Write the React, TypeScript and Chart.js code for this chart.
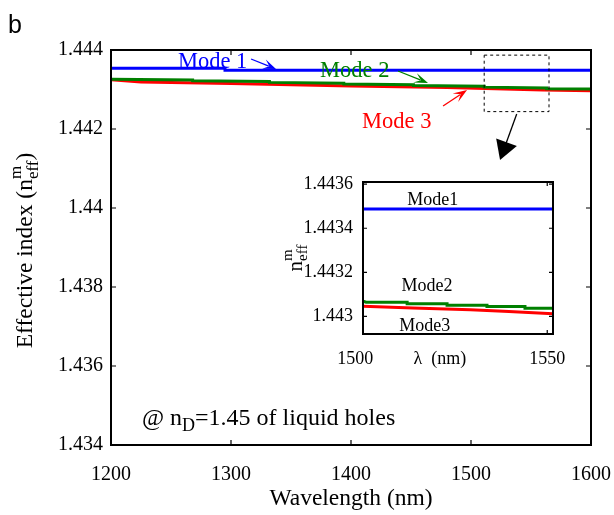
import React, { useEffect, useRef } from 'react';
import { Chart, registerables } from 'chart.js';

Chart.register(...registerables);

const SERIF = '"Liberation Serif", "Times New Roman", Times, serif';
const SANS = '"Liberation Sans", Arial, sans-serif';

// ---------- Main chart data ----------
const mode1Wavelength = [1200, 1295, 1295, 1600];
const mode1Index = [1.44354, 1.44354, 1.44349, 1.44349];

const mode2Wavelength = [1200, 1268, 1268, 1332, 1332, 1394, 1394, 1452, 1452, 1511, 1511, 1563, 1563, 1600];
const mode2Index = [1.44326, 1.44324, 1.44322, 1.4432, 1.44318, 1.44316, 1.44314, 1.44312, 1.4431, 1.44308, 1.44306, 1.44304, 1.44302, 1.44301];

const mode3Wavelength = [1200, 1225, 1300, 1400, 1480, 1520, 1560, 1600];
const mode3Index = [1.44325, 1.44319, 1.44315, 1.44309, 1.44305, 1.44302, 1.44299, 1.44297];

const mainXTicks = [1200, 1300, 1400, 1500, 1600];
const mainXLabels = ['1200', '1300', '1400', '1500', '1600'];
const mainYTicks = [1.434, 1.436, 1.438, 1.44, 1.442, 1.444];
const mainYLabels = ['1.434', '1.436', '1.438', '1.44', '1.442', '1.444'];

// ---------- Inset data ----------
const insetMode1Wavelength = [1502, 1551.5];
const insetMode1Index = [1.443487, 1.443487];

const insetMode2Wavelength = [1502, 1502.8, 1513.5, 1513.5, 1523.9, 1523.9, 1534.3, 1534.3, 1544.2, 1544.2, 1551.5];
const insetMode2Index = [1.443069, 1.443064, 1.443064, 1.443057, 1.443057, 1.443051, 1.443051, 1.443045, 1.443045, 1.443037, 1.443037];

const insetMode3Wavelength = [1502, 1515, 1530, 1540, 1551.5];
const insetMode3Index = [1.443046, 1.443038, 1.44303, 1.443022, 1.443012];

const insetXTicks = [1500, 1550];
const insetXLabels = ['1500', '1550'];
const insetYTicks = [1.443, 1.4432, 1.4434, 1.4436];
const insetYLabels = ['1.443', '1.4432', '1.4434', '1.4436'];

// ---------- Annotation anchors (data coordinates) ----------
const ANN = {
  mode1Text: [1255.8, 1.443696],
  mode1Arrow: [1316.7, 1.443772, 1337.5, 1.443519],
  mode2Text: [1374.2, 1.443468],
  mode2Arrow: [1439.2, 1.443468, 1464.2, 1.443165],
  mode3Text: [1409.2, 1.442177],
  mode3Arrow: [1476.7, 1.442582, 1496.7, 1.442987],
  zoomBox: [1511, 1.44387, 1565, 1.44244],
  bigArrow: [1538.1, 1.44238, 1524.2, 1.441215],
  note: [1225.8, 1.434506],
};
const INSET_ANN = {
  mode1: [1520.2, 1.443528],
  mode2: [1518.7, 1.443135],
  mode3: [1518.1, 1.442955],
  xTitle: 1522,
};

const BLUE = '#0000ff';
const GREEN = '#008000';
const RED = '#ff0000';

const toPoints = (xs: number[], ys: number[]) => xs.map((x, i) => ({ x, y: ys[i] }));

const labelFor = (ticks: number[], labels: string[]) => (v: any) => {
  const i = ticks.findIndex((t) => Math.abs(t - Number(v)) < 1e-9);
  return i >= 0 ? labels[i] : '';
};

const noScalePadding = (s: any) => {
  s.paddingLeft = 0;
  s.paddingRight = 0;
  s.paddingTop = 0;
  s.paddingBottom = 0;
};

function drawArrow(
  ctx: CanvasRenderingContext2D,
  x1: number, y1: number, x2: number, y2: number,
  color: string, headLen: number, headWidth: number, notch: number, lineWidth: number
) {
  const ang = Math.atan2(y2 - y1, x2 - x1);
  const c = Math.cos(ang);
  const s = Math.sin(ang);
  const bx = x2 - headLen * c;
  const by = y2 - headLen * s;
  const px = -s;
  const py = c;
  ctx.save();
  ctx.strokeStyle = color;
  ctx.fillStyle = color;
  ctx.lineWidth = lineWidth;
  ctx.beginPath();
  ctx.moveTo(x1, y1);
  ctx.lineTo(x2 - headLen * 0.6 * c, y2 - headLen * 0.6 * s);
  ctx.stroke();
  ctx.beginPath();
  ctx.moveTo(x2, y2);
  ctx.lineTo(bx + (px * headWidth) / 2, by + (py * headWidth) / 2);
  ctx.lineTo(x2 - headLen * (1 - notch) * c, y2 - headLen * (1 - notch) * s);
  ctx.lineTo(bx - (px * headWidth) / 2, by - (py * headWidth) / 2);
  ctx.closePath();
  ctx.fill();
  ctx.restore();
}

function drawNeffLabel(
  ctx: CanvasRenderingContext2D, x: number, yCenter: number,
  prefix: string, suffix: string, size: number
) {
  const small = Math.round(size * 0.72);
  ctx.save();
  ctx.translate(x, yCenter);
  ctx.rotate(-Math.PI / 2);
  ctx.fillStyle = '#000';
  ctx.textAlign = 'left';
  ctx.textBaseline = 'alphabetic';
  ctx.font = `${size}px ${SERIF}`;
  const w1 = ctx.measureText(prefix).width;
  const w4 = suffix ? ctx.measureText(suffix).width : 0;
  ctx.font = `${small}px ${SERIF}`;
  const wm = ctx.measureText('m').width;
  const we = ctx.measureText('eff').width;
  const wmax = Math.max(wm, we);
  const total = w1 + wmax + w4;
  const start = -total / 2;
  ctx.font = `${size}px ${SERIF}`;
  ctx.fillText(prefix, start, 0);
  if (suffix) ctx.fillText(suffix, start + w1 + wmax, 0);
  ctx.font = `${small}px ${SERIF}`;
  ctx.fillText('m', start + w1, -size * 0.48);
  ctx.fillText('eff', start + w1, size * 0.24);
  ctx.restore();
}

function drawFrameAndTicks(chart: any, xTicks: number[], yTicks: number[], len: number, lw: number) {
  const { ctx, chartArea } = chart;
  const { left, right, top, bottom } = chartArea;
  const xs = chart.scales.x;
  const ys = chart.scales.y;
  ctx.save();
  ctx.strokeStyle = '#000';
  ctx.lineWidth = lw;
  ctx.strokeRect(left, top, right - left, bottom - top);
  ctx.lineWidth = 1.2;
  ctx.beginPath();
  xTicks.forEach((v) => {
    const px = xs.getPixelForValue(v);
    if (px < left - 0.5 || px > right + 0.5) return;
    ctx.moveTo(px, bottom);
    ctx.lineTo(px, bottom - len);
    ctx.moveTo(px, top);
    ctx.lineTo(px, top + len);
  });
  yTicks.forEach((v) => {
    const py = ys.getPixelForValue(v);
    if (py < top - 0.5 || py > bottom + 0.5) return;
    ctx.moveTo(left, py);
    ctx.lineTo(left + len, py);
    ctx.moveTo(right, py);
    ctx.lineTo(right - len, py);
  });
  ctx.stroke();
  ctx.restore();
}

const mainPlugin = {
  id: 'mainDecor',
  afterDraw(chart: any) {
    const { ctx } = chart;
    const xs = chart.scales.x;
    const ys = chart.scales.y;
    const X = (v: number) => xs.getPixelForValue(v);
    const Y = (v: number) => ys.getPixelForValue(v);
    drawFrameAndTicks(chart, mainXTicks, mainYTicks, 5, 2);

    // y-axis title
    drawNeffLabel(ctx, 32, (chart.chartArea.top + chart.chartArea.bottom) / 2 + 3, 'Effective index (n', ')', 23.5);

    ctx.save();
    // panel letter
    ctx.fillStyle = '#000';
    ctx.font = `25px ${SANS}`;
    ctx.textAlign = 'left';
    ctx.textBaseline = 'alphabetic';
    ctx.fillText('b', 8, 33);

    // mode labels
    ctx.font = `22.5px ${SERIF}`;
    ctx.textBaseline = 'middle';
    ctx.fillStyle = BLUE;
    ctx.fillText('Mode 1', X(ANN.mode1Text[0]), Y(ANN.mode1Text[1]));
    ctx.fillStyle = GREEN;
    ctx.fillText('Mode 2', X(ANN.mode2Text[0]), Y(ANN.mode2Text[1]));
    ctx.fillStyle = RED;
    ctx.fillText('Mode 3', X(ANN.mode3Text[0]), Y(ANN.mode3Text[1]));
    ctx.restore();

    const a1 = ANN.mode1Arrow;
    drawArrow(ctx, X(a1[0]), Y(a1[1]), X(a1[2]), Y(a1[3]), BLUE, 13, 10, 0.45, 1.3);
    const a2 = ANN.mode2Arrow;
    drawArrow(ctx, X(a2[0]), Y(a2[1]), X(a2[2]), Y(a2[3]), GREEN, 14, 10, 0.45, 1.3);
    const a3 = ANN.mode3Arrow;
    drawArrow(ctx, X(a3[0]), Y(a3[1]), X(a3[2]), Y(a3[3]), RED, 14, 10, 0.45, 1.3);

    // dashed zoom box
    const zb = ANN.zoomBox;
    ctx.save();
    ctx.strokeStyle = '#000';
    ctx.lineWidth = 1;
    ctx.setLineDash([3, 3]);
    ctx.strokeRect(X(zb[0]), Y(zb[1]), X(zb[2]) - X(zb[0]), Y(zb[3]) - Y(zb[1]));
    ctx.restore();

    const ba = ANN.bigArrow;
    drawArrow(ctx, X(ba[0]), Y(ba[1]), X(ba[2]), Y(ba[3]), '#000', 19, 22, 0, 1.3);

    // note text
    const nx = X(ANN.note[0]);
    const ny = Y(ANN.note[1]);
    ctx.save();
    ctx.fillStyle = '#000';
    ctx.textAlign = 'left';
    ctx.textBaseline = 'alphabetic';
    ctx.font = `24px ${SERIF}`;
    const p1 = '@ n';
    ctx.fillText(p1, nx, ny);
    let cx = nx + ctx.measureText(p1).width;
    ctx.font = `18px ${SERIF}`;
    ctx.fillText('D', cx, ny + 6);
    cx += ctx.measureText('D').width;
    ctx.font = `24px ${SERIF}`;
    ctx.fillText('=1.45 of liquid holes', cx, ny);
    ctx.restore();
  },
};

const insetPlugin = {
  id: 'insetDecor',
  beforeDraw(chart: any) {
    const { ctx, chartArea } = chart;
    ctx.save();
    ctx.fillStyle = '#fff';
    ctx.fillRect(chartArea.left, chartArea.top, chartArea.right - chartArea.left, chartArea.bottom - chartArea.top);
    ctx.restore();
  },
  afterDraw(chart: any) {
    const { ctx, chartArea } = chart;
    const xs = chart.scales.x;
    const ys = chart.scales.y;
    const X = (v: number) => xs.getPixelForValue(v);
    const Y = (v: number) => ys.getPixelForValue(v);
    drawFrameAndTicks(chart, insetXTicks, insetYTicks, 4, 2);

    ctx.save();
    ctx.fillStyle = '#000';
    ctx.font = `18px ${SERIF}`;
    ctx.textAlign = 'center';
    ctx.textBaseline = 'middle';
    insetXTicks.forEach((v, i) => {
      ctx.fillText(insetXLabels[i], X(v), chartArea.bottom + 25);
    });
    ctx.fillText('\u03bb  (nm)', X(INSET_ANN.xTitle), chartArea.bottom + 25);
    ctx.fillText('Mode1', X(INSET_ANN.mode1[0]), Y(INSET_ANN.mode1[1]));
    ctx.fillText('Mode2', X(INSET_ANN.mode2[0]), Y(INSET_ANN.mode2[1]));
    ctx.fillText('Mode3', X(INSET_ANN.mode3[0]), Y(INSET_ANN.mode3[1]));
    ctx.restore();

    drawNeffLabel(ctx, chartArea.left - 61, (chartArea.top + chartArea.bottom) / 2, 'n', '', 21);
  },
};

function makeDataset(label: string, xs: number[], ys: number[], color: string, width: number) {
  return {
    label,
    data: toPoints(xs, ys),
    borderColor: color,
    backgroundColor: color,
    borderWidth: width,
    pointRadius: 0,
    tension: 0,
    fill: false,
  };
}

export default function App() {
  const mainRef = useRef<HTMLCanvasElement | null>(null);
  const insetRef = useRef<HTMLCanvasElement | null>(null);

  useEffect(() => {
    if (!mainRef.current || !insetRef.current) return;
    const main = new Chart(mainRef.current, {
      type: 'line',
      data: {
        datasets: [
          makeDataset('Mode 1', mode1Wavelength, mode1Index, BLUE, 3),
          makeDataset('Mode 2', mode2Wavelength, mode2Index, GREEN, 3),
          makeDataset('Mode 3', mode3Wavelength, mode3Index, RED, 3),
        ],
      },
      options: {
        animation: false,
        responsive: false,
        devicePixelRatio: 1,
        layout: { autoPadding: false, padding: { top: 50, right: 23, left: 0, bottom: 0 } },
        plugins: { legend: { display: false }, tooltip: { enabled: false } },
        scales: {
          x: {
            type: 'linear',
            min: 1200,
            max: 1600,
            afterBuildTicks: (s: any) => { s.ticks = mainXTicks.map((v) => ({ value: v })); },
            afterFit: (s: any) => { s.height = 70; noScalePadding(s); },
            grid: { display: false, drawTicks: false },
            border: { display: false },
            ticks: {
              autoSkip: false,
              maxRotation: 0,
              padding: 18,
              color: '#000',
              font: { family: SERIF, size: 20 },
              callback: labelFor(mainXTicks, mainXLabels),
            },
            title: {
              display: true,
              text: 'Wavelength (nm)',
              color: '#000',
              font: { family: SERIF, size: 23.5 },
              padding: { top: 0, bottom: 2 },
            },
          },
          y: {
            type: 'linear',
            min: 1.434,
            max: 1.444,
            afterBuildTicks: (s: any) => { s.ticks = mainYTicks.map((v) => ({ value: v })); },
            afterFit: (s: any) => { s.width = 111; noScalePadding(s); },
            grid: { display: false, drawTicks: false },
            border: { display: false },
            ticks: {
              autoSkip: false,
              padding: 8,
              color: '#000',
              font: { family: SERIF, size: 20 },
              callback: labelFor(mainYTicks, mainYLabels),
            },
          },
        },
      } as any,
      plugins: [mainPlugin],
    });

    const inset = new Chart(insetRef.current, {
      type: 'line',
      data: {
        datasets: [
          makeDataset('Mode1', insetMode1Wavelength, insetMode1Index, BLUE, 3),
          makeDataset('Mode2', insetMode2Wavelength, insetMode2Index, GREEN, 3),
          makeDataset('Mode3', insetMode3Wavelength, insetMode3Index, RED, 3),
        ],
      },
      options: {
        animation: false,
        responsive: false,
        devicePixelRatio: 1,
        layout: { autoPadding: false, padding: { top: 22, right: 17, left: 0, bottom: 0 } },
        plugins: { legend: { display: false }, tooltip: { enabled: false } },
        scales: {
          x: {
            type: 'linear',
            min: 1502,
            max: 1551.5,
            afterFit: (s: any) => { s.height = 41; noScalePadding(s); },
            grid: { display: false, drawTicks: false },
            border: { display: false },
            ticks: { display: false },
          },
          y: {
            type: 'linear',
            min: 1.44292,
            max: 1.44361,
            afterBuildTicks: (s: any) => { s.ticks = insetYTicks.map((v) => ({ value: v })); },
            afterFit: (s: any) => { s.width = 113; noScalePadding(s); },
            grid: { display: false, drawTicks: false },
            border: { display: false },
            ticks: {
              autoSkip: false,
              padding: 10,
              color: '#000',
              font: { family: SERIF, size: 18 },
              callback: labelFor(insetYTicks, insetYLabels),
            },
          },
        },
      } as any,
      plugins: [insetPlugin],
    });

    return () => {
      main.destroy();
      inset.destroy();
    };
  }, []);

  return (
    <div style={{ position: 'absolute', left: 0, top: 0, width: 614, height: 515, background: '#fff' }}>
      <canvas
        ref={mainRef}
        width={614}
        height={515}
        style={{ position: 'absolute', left: 0, top: 0, width: 614, height: 515 }}
      />
      <canvas
        ref={insetRef}
        width={320}
        height={215}
        style={{ position: 'absolute', left: 250, top: 160, width: 320, height: 215 }}
      />
    </div>
  );
}
